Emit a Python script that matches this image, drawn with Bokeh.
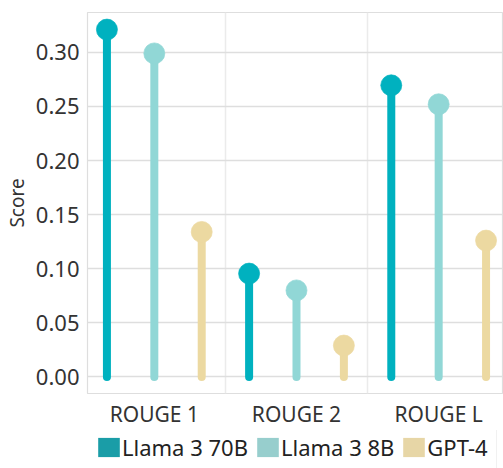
from bokeh.plotting import figure
from bokeh.layouts import column
from bokeh.models import ColumnDataSource, Range1d, FixedTicker, Legend, LegendItem, NumeralTickFormatter
from bokeh.embed import file_html
from bokeh.resources import INLINE

metrics = ["ROUGE 1", "ROUGE 2", "ROUGE L"]
models = ["Llama 3 70B", "Llama 3 8B", "GPT-4"]
llama70 = [0.321, 0.0955, 0.2695]
llama8 = [0.299, 0.080, 0.252]
gpt4 = [0.134, 0.029, 0.126]
y_ticks = [0.0, 0.05, 0.10, 0.15, 0.20, 0.25, 0.30]

colors = ["#00B1BF", "#91D7D6", "#ECD9A1"]
legend_colors = ["#1A9DA7", "#97CECD", "#E7D6A6"]
offsets = [-1/3, 0.0, 1/3]
series = [llama70, llama8, gpt4]

FONT = "Noto Sans"

p = figure(width=503, height=430, output_backend="svg", toolbar_location=None,
           x_range=Range1d(-0.47, 2.456), y_range=Range1d(-0.0153, 0.3368),
           min_border_left=86, min_border_right=0, min_border_top=12, min_border_bottom=35)

p.outline_line_color = "#DEDEDE"
p.outline_line_width = 1.2

for name, vals, off, col in zip(models, series, offsets, colors):
    xs = [i + off for i in range(len(metrics))]
    src = ColumnDataSource(dict(x=xs, y=vals, y0=[0] * len(vals)))
    p.segment(x0="x", y0="y0", x1="x", y1="y", source=src, line_color=col,
              line_width=8, line_cap="round")
    p.scatter(x="x", y="y", source=src, size=21, fill_color=col, line_color=col, line_width=0.7)

# axes
p.xaxis.ticker = FixedTicker(ticks=list(range(len(metrics))))
p.xaxis.major_label_overrides = {i: m for i, m in enumerate(metrics)}
p.yaxis.ticker = FixedTicker(ticks=y_ticks)
p.yaxis.formatter = NumeralTickFormatter(format="0.00")
for ax in (p.xaxis[0], p.yaxis[0]):
    ax.axis_line_color = None
    ax.major_tick_line_color = None
    ax.minor_tick_line_color = None
    ax.major_tick_out = 0
    ax.major_tick_in = 0
    ax.minor_tick_out = 0
    ax.major_label_text_font = FONT
    ax.major_label_text_color = "#333333"
p.yaxis.major_label_text_font_size = "22px"
p.xaxis.major_label_text_font_size = "21px"
p.yaxis.major_label_standoff = 8
p.xaxis.major_label_standoff = 6
p.yaxis.axis_label = "Score"
p.yaxis.axis_label_text_font = FONT
p.yaxis.axis_label_text_font_style = "normal"
p.yaxis.axis_label_text_font_size = "19px"
p.yaxis.axis_label_text_color = "#333333"
p.yaxis.axis_label_standoff = 3

p.ygrid.grid_line_color = "#DEDEDE"
p.ygrid.grid_line_width = 1.3
p.xgrid.ticker = FixedTicker(ticks=[0.5, 1.5])
p.xgrid.grid_line_color = "#EBEBEB"
p.xgrid.grid_line_width = 1.5

# legend strip below the chart (its frame is aligned with the chart frame by the column layout)
lg = figure(width=503, height=38, output_backend="svg", toolbar_location=None,
            x_range=Range1d(0, 1), y_range=Range1d(0, 1),
            x_axis_type=None, y_axis_type=None, min_border=0)
lg.outline_line_color = None
lg.grid.visible = False
legend_items = []
for name, lcol in zip(models, legend_colors):
    dummy = lg.rect(x=[-5], y=[-5], width=[0.1], height=[0.1], fill_color=lcol, line_color=None)
    legend_items.append(LegendItem(label=name, renderers=[dummy]))

legend = Legend(items=legend_items, orientation="horizontal", location=(-1, -3),
                label_text_font=FONT, label_text_font_size="22px", label_text_color="#222222",
                glyph_width=27, glyph_height=24, label_standoff=0, spacing=6,
                padding=8, margin=0, border_line_color="#E3E3E3", border_line_width=1.2)
lg.add_layout(legend, "center")

layout = column(p, lg, spacing=0)
open("out.html", "w").write(file_html(layout, INLINE))
